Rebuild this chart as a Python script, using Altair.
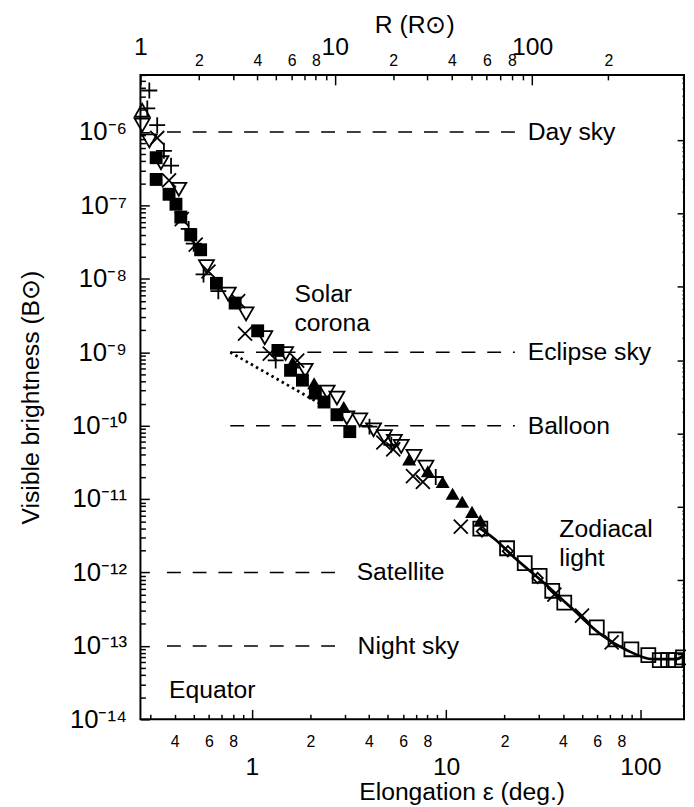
import json
import math
import altair as alt
import pandas as pd

FONT = "Liberation Sans"

# ---------------- data ----------------
X_DOMAIN = [0.2664, 168]
Y_DOMAIN = [1e-14, 6e-6]

# "+" markers
plus_eps = [0.296, 0.289, 0.325, 0.352, 0.383, 0.472, 0.501, 0.563, 0.671, 1.325, 4.03, 5.22, 8.84]
plus_b = [3.68e-6, 2.10e-6, 1.24e-6, 5.55e-7, 3.48e-7, 4.79e-8, 3.01e-8, 1.15e-8, 6.79e-9, 7.74e-10,
          9.7e-11, 5.5e-11, 2.0e-11]

# open triangle down
tdown_eps = [0.272, 0.296, 0.340, 0.420, 0.583, 0.755, 0.932, 1.164, 1.49, 1.88, 2.44, 2.74,
             3.08, 3.59, 4.23, 4.81, 5.41, 5.87, 6.83, 7.87]
tdown_b = [1.24e-6, 7.57e-7, 3.82e-7, 1.66e-7, 1.47e-8, 6.18e-9, 3.33e-9, 1.58e-9, 9.6e-10, 5.68e-10,
           2.87e-10, 2.38e-10, 1.28e-10, 1.20e-10, 8.8e-11, 7.1e-11, 6.1e-11, 5.21e-11, 3.82e-11, 2.72e-11]

# open triangle up
tup_eps = [0.272]
tup_b = [1.98e-6]

# "x" markers
cross_eps = [0.325, 0.374, 0.435, 0.513, 0.597, 0.849, 0.921, 1.235, 1.71, 4.75, 5.34, 6.75, 7.59,
             11.9, 36.1, 50.1, 71.2]
cross_b = [8.3e-7, 2.19e-7, 6.53e-8, 2.92e-8, 1.26e-8, 4.98e-9, 1.79e-9, 9.6e-10, 7.7e-10, 5.9e-11,
           4.75e-11, 2.06e-11, 1.71e-11, 4.23e-12, 4.98e-13, 2.59e-13, 1.12e-13]

# filled squares
fsq_eps = [0.321, 0.321, 0.374, 0.406, 0.430, 0.484, 0.544, 0.656, 0.819, 1.07, 1.36, 1.58, 1.82,
           2.12, 2.35, 2.74, 3.19]
fsq_b = [4.47e-7, 2.26e-7, 1.42e-7, 1.04e-7, 6.95e-8, 3.97e-8, 2.49e-8, 8.69e-9, 4.68e-9, 1.96e-9,
         1.06e-9, 5.68e-10, 4.17e-10, 2.78e-10, 2.10e-10, 1.41e-10, 8.3e-11]

# filled triangles up
ftri_eps = [1.62, 2.09, 2.97, 6.45, 8.05, 9.60, 10.8, 12.1, 13.6, 15.0]
ftri_b = [7.28e-10, 3.79e-10, 1.80e-10, 3.48e-11, 2.40e-11, 1.71e-11, 1.18e-11, 9.2e-12, 6.7e-12, 5.09e-12]

# open squares
osq_eps = [15.0, 20.6, 25.4, 30.3, 35.2, 40.6, 59.7, 74.6, 90.0, 110, 126, 139, 152, 166]
osq_b = [3.97e-12, 2.14e-12, 1.34e-12, 8.97e-13, 5.64e-13, 3.88e-13, 1.79e-13, 1.23e-13, 9.0e-14,
         7.5e-14, 6.4e-14, 6.4e-14, 6.4e-14, 7.0e-14]

# open diamonds
dia_eps = [15.3, 20.8, 29.6]
dia_b = [3.62e-12, 1.95e-12, 8.4e-13]

# zodiacal light model curve
zodi_eps = [15.0, 17.9, 21.8, 31.0, 44.0, 62.6, 84.9, 116, 152, 168]
zodi_b = [3.97e-12, 2.82e-12, 1.72e-12, 7.7e-13, 3.33e-13, 1.44e-13, 8.8e-14, 6.6e-14, 6.6e-14, 7.4e-14]

# dotted F-corona extension
dot_eps = [0.773, 2.30]
dot_b = [1.0e-9, 1.92e-10]

# reference sky levels
ref_level = [1e-6, 1e-9, 1e-10, 1e-12, 1e-13]
ref_start = [0.365, 0.773, 0.773, 0.365, 0.365]
ref_end = [22.6, 22.6, 22.6, 2.9, 2.74]
ref_label = ["Day sky", "Eclipse sky", "Balloon", "Satellite", "Night sky"]
ref_label_eps = [26.3, 26.3, 26.3, 3.46, 3.5]

# other annotations
note_text = ["Solar", "corona", "Zodiacal", "light", "Equator"]
note_eps = [1.655, 1.655, 38.3, 38.3, 0.374]
note_b = [6.18e-9, 2.52e-9, 3.86e-12, 1.57e-12, 2.54e-14]

# axis ticks
x_ticks = [0.3, 0.4, 0.5, 0.6, 0.7, 0.8, 0.9, 1, 2, 3, 4, 5, 6, 7, 8, 9,
           10, 20, 30, 40, 50, 60, 70, 80, 90, 100]
x_tick_labels = ["", "4", "", "6", "", "8", "", "1", "2", "", "4", "", "6", "", "8", "",
                 "10", "2", "", "4", "", "6", "", "8", "", "100"]
x_major = [1, 10, 100]

r_ticks = [1, 2, 3, 4, 5, 6, 7, 8, 9, 10, 20, 30, 40, 50, 60, 70, 80, 90, 100, 200]
r_tick_labels = ["1", "2", "", "4", "", "6", "", "8", "", "10", "2", "", "4", "", "6", "", "8", "",
                 "100", "2"]
r_major = [1, 10, 100]
AU_IN_RSUN = 215.0

y_exponents = [-14, -13, -12, -11, -10, -9, -8, -7, -6]
y_labels = ["10⁻¹⁴", "10⁻¹³", "10⁻¹²", "10⁻¹¹", "10⁻¹⁰", "10⁻⁹", "10⁻⁸", "10⁻⁷", "10⁻⁶"]
RIGHT_AXIS_FACTOR = 0.78

# ---------------- derived tick positions ----------------
y_decades = [float(f"1e{k}") for k in y_exponents]
y_ticks = [m * d for d in y_decades for m in range(1, 10) if m * d <= Y_DOMAIN[1]]
r_eps = [math.degrees(math.asin(r / AU_IN_RSUN)) for r in r_ticks]
r_major_eps = [r_eps[r_ticks.index(r)] for r in r_major]
right_major = [d * RIGHT_AXIS_FACTOR for d in y_decades] + [10 * y_decades[-1] * RIGHT_AXIS_FACTOR]
right_ticks = [m * d for d in right_major for m in range(1, 10)
               if Y_DOMAIN[0] <= m * d <= Y_DOMAIN[1]]


def js_nums(vals):
    return "[" + ",".join(repr(float(v)) for v in vals) + "]"


def js_strs(vals):
    return json.dumps(vals, ensure_ascii=False)


def is_major(vals):
    return f"indexof({js_nums(vals)}, datum.value) >= 0"


xscale = alt.Scale(type="log", domain=X_DOMAIN, nice=False)
yscale = alt.Scale(type="log", domain=Y_DOMAIN, nice=False)

common_axis = dict(domain=False, grid=False, tickColor="black", tickWidth=1.5,
                   labelColor="black", labelFont=FONT, titleFont=FONT, titleColor="black",
                   titleFontSize=25, titleFontWeight="normal", labelOverlap=False, labelFlush=False)

bottom_axis = alt.Axis(
    orient="bottom", values=x_ticks,
    labelExpr=f"{js_strs(x_tick_labels)}[indexof({js_nums(x_ticks)}, datum.value)] || ''",
    tickSize={"expr": f"{is_major(x_major)} ? -10 : -5"},
    labelFontSize={"expr": f"{is_major(x_major)} ? 25 : 16"},
    labelPadding={"expr": f"{is_major(x_major)} ? 66 : 32"},
    labelBaseline="alphabetic",
    title="Elongation ε (deg.)", titleBaseline="alphabetic", titleX=325, titleY=81,
    **common_axis)

left_axis = alt.Axis(
    orient="left", values=y_ticks,
    labelExpr=f"{js_strs(y_labels)}[indexof({js_nums(y_decades)}, datum.value)] || ''",
    tickSize={"expr": f"{is_major(y_decades)} ? -9 : -5"},
    labelFontSize=26, labelPadding=23, labelBaseline="middle",
    title="Visible brightness (B⊙)", titleAngle=270, titleBaseline="bottom",
    titleX=-98, titleY=326,
    **common_axis)

top_axis = alt.Axis(
    orient="top", values=r_eps,
    labelExpr=f"{js_strs(r_tick_labels)}[indexof({js_nums(r_eps)}, datum.value)] || ''",
    tickSize={"expr": f"{is_major(r_major_eps)} ? -10 : -5"},
    labelFontSize={"expr": f"{is_major(r_major_eps)} ? 25 : 16"},
    labelPadding={"expr": f"{is_major(r_major_eps)} ? 31 : 15"},
    labelBaseline="alphabetic",
    title="R (R⊙)", titleBaseline="alphabetic", titleX=277, titleY=-43,
    **common_axis)

right_axis = alt.Axis(
    orient="right", values=right_ticks, labels=False,
    tickSize={"expr": f"{is_major(right_major)} ? -7 : -2"},
    title=None, domain=False, grid=False, tickColor="black", tickWidth=1.5)


def xenc(field="eps", axis=None):
    return alt.X(f"{field}:Q", scale=xscale, axis=axis)


def yenc(field="b", axis=None):
    return alt.Y(f"{field}:Q", scale=yscale, axis=axis)


PLUS = "M-1,0L1,0M0,-1L0,1"
XMARK = "M-1,-1L1,1M-1,1L1,-1"


def points(eps, b, shape, filled, size, axes=False):
    df = pd.DataFrame({"eps": eps, "b": b})
    return alt.Chart(df).mark_point(
        shape=shape, filled=filled, size=size, color="black", strokeWidth=1.8, opacity=1
    ).encode(
        x=xenc(axis=bottom_axis if axes else None),
        y=yenc(axis=left_axis if axes else None),
    )


ref_df = pd.DataFrame({"x0": ref_start, "x1": ref_end, "level": ref_level})
ref_lines = alt.Chart(ref_df).mark_rule(
    color="black", strokeWidth=1.5, strokeDash=[14, 12]
).encode(x=xenc("x0"), x2="x1:Q", y=yenc("level"))

dot_line = alt.Chart(pd.DataFrame({"eps": dot_eps, "b": dot_b})).mark_line(
    color="black", strokeWidth=2.8, strokeDash=[2.5, 3.5]
).encode(x=xenc(), y=yenc())

zodi_line = alt.Chart(pd.DataFrame({"eps": zodi_eps, "b": zodi_b})).mark_line(
    color="black", strokeWidth=2.8, interpolate="monotone"
).encode(x=xenc(), y=yenc())

text_df = pd.DataFrame({
    "eps": ref_label_eps + note_eps,
    "b": ref_level + note_b,
    "label": ref_label + note_text,
})
texts = alt.Chart(text_df).mark_text(
    align="left", baseline="middle", fontSize=25, font=FONT, color="black"
).encode(
    x=xenc(axis=top_axis), y=yenc(axis=right_axis), text="label:N"
)

layers = [
    ref_lines,
    dot_line,
    points(fsq_eps, fsq_b, "square", True, 170, axes=True),
    points(tdown_eps, tdown_b, "triangle-down", False, 230),
    points(tup_eps, tup_b, "triangle-up", False, 230),
    points(plus_eps, plus_b, PLUS, False, 260),
    points(cross_eps, cross_b, XMARK, False, 200),
    points(ftri_eps, ftri_b, "triangle-up", True, 200),
    points(osq_eps, osq_b, "square", False, 200),
    points(dia_eps, dia_b, "diamond", False, 110),
    zodi_line,
    texts,
]

chart = alt.layer(*layers).resolve_axis(x="independent", y="independent").properties(
    width=550, height=652,
    autosize=alt.AutoSizeParams(type="none"),
    padding={"left": 134, "top": 63, "right": 2, "bottom": 84},
).configure_view(stroke="black", strokeWidth=2)

chart.save("out.html", embed_options={"renderer": "svg", "actions": False})
